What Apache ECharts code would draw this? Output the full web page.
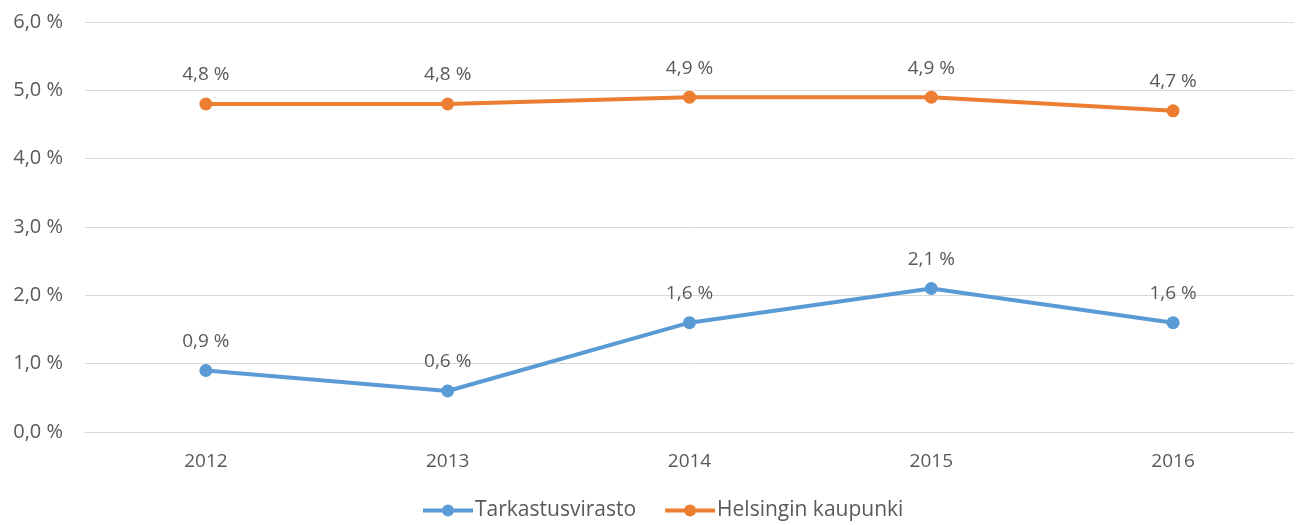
<!DOCTYPE html>
<html>
<head>
<meta charset="utf-8">
<script src="https://cdn.jsdelivr.net/npm/echarts@6/dist/echarts.min.js"></script>
<style>
  html, body { margin: 0; padding: 0; background: #fff; }
  #chart { width: 1298px; height: 525px; }
</style>
</head>
<body>
<div id="chart"></div>
<script>
// data
var years = ['2012', '2013', '2014', '2015', '2016'];
var tarkastusvirasto = [0.9, 0.6, 1.6, 2.1, 1.6];
var helsinki = [4.8, 4.8, 4.9, 4.9, 4.7];
var seriesNames = ['Tarkastusvirasto', 'Helsingin kaupunki'];

var fontFam = '"Open Sans", "Liberation Sans", sans-serif';
var textCol = '#595959';
var fs = 19;

function pct(v) {
    return v.toFixed(1).replace('.', ',') + ' %';
}

var myChart = echarts.init(document.getElementById('chart'));

function lineSeries(name, data, color) {
    return {
        name: name,
        type: 'line',
        data: data,
        symbol: 'circle',
        symbolSize: 13,
        lineStyle: { width: 4, color: color },
        itemStyle: { color: color },
        label: {
            show: true,
            position: 'top',
            distance: 13,
            color: textCol,
            fontFamily: fontFam,
            fontSize: fs,
            formatter: function (p) { return pct(p.value); }
        },
        animation: false
    };
}

var option = {
    backgroundColor: '#fff',
    grid: { left: 85, right: 4, top: 22, bottom: 93 },
    legend: {
        bottom: -1,
        left: 416,
        itemWidth: 50,
        itemHeight: 15,
        itemGap: 27,
        lineStyle: { width: 4 },
        textStyle: { color: textCol, fontFamily: fontFam, fontSize: 21, padding: [0, 0, 0, -3] },
        data: seriesNames
    },
    xAxis: {
        type: 'category',
        data: years,
        axisLine: { show: true, lineStyle: { color: '#d9d9d9', width: 1 } },
        axisTick: { show: false },
        axisLabel: { color: textCol, fontFamily: fontFam, fontSize: fs, margin: 20 }
    },
    yAxis: {
        type: 'value',
        min: 0,
        max: 6,
        interval: 1,
        axisLine: { show: false },
        axisTick: { show: false },
        splitLine: { lineStyle: { color: '#d9d9d9', width: 1 } },
        axisLabel: {
            color: textCol,
            fontFamily: fontFam,
            fontSize: 20,
            margin: 22,
            formatter: function (v) { return pct(v); }
        }
    },
    series: [
        lineSeries(seriesNames[0], tarkastusvirasto, '#5B9BD5'),
        lineSeries(seriesNames[1], helsinki, '#ED7D31')
    ]
};

myChart.setOption(option);
</script>
</body>
</html>
